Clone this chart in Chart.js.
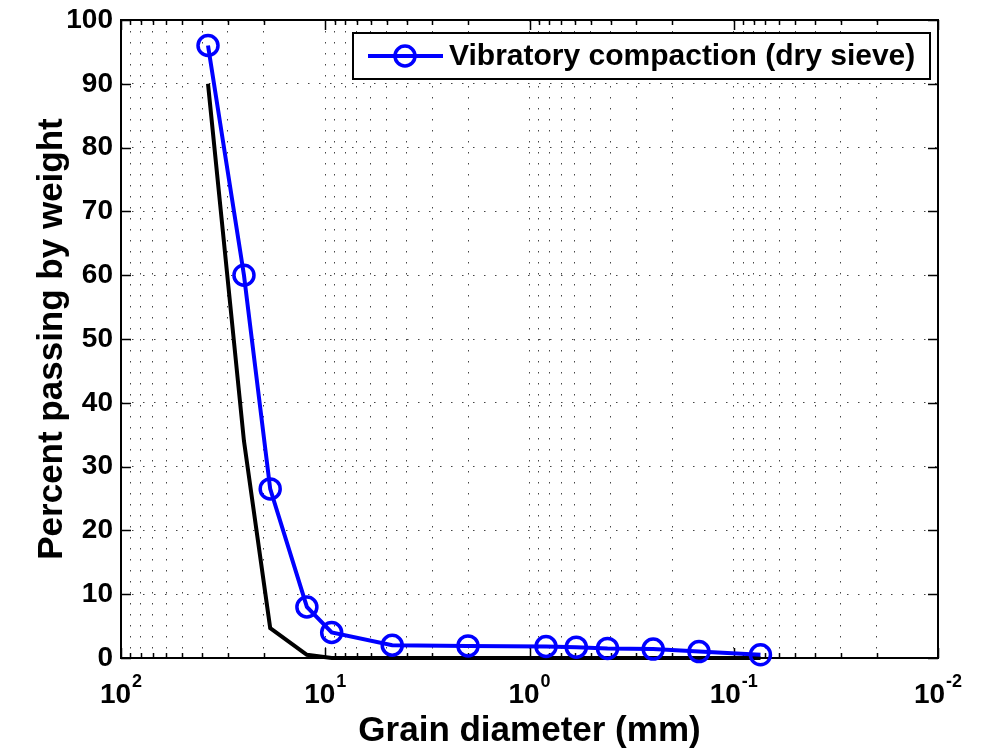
<!DOCTYPE html>
<html>
<head>
<meta charset="utf-8">
<title>Grain size distribution</title>
<script src="https://cdn.jsdelivr.net/npm/chart.js@4.4.0/dist/chart.umd.min.js"></script>
<style>
  html, body { margin: 0; padding: 0; background: #fff; }
  #wrap { width: 981px; height: 750px; }
</style>
</head>
<body>
<div id="wrap"><canvas id="gradationChart"></canvas></div>
<script>
// Sieve sizes (mm) and percent passing
const sieveSizes = [37.5, 25, 18.6, 12.3, 9.3, 4.7, 2, 0.83, 0.59, 0.415, 0.248, 0.148, 0.074];
const passingDry = [96, 60, 26.5, 8, 4, 2, 1.9, 1.8, 1.7, 1.5, 1.4, 1.0, 0.5];
const passingBase = [90, 34, 4.7, 0.5, 0, 0, 0, 0, 0, 0, 0, 0, 0];

// Axis ticks
const decades = [2, 1, 0, -1, -2];
const yTicks = [0, 10, 20, 30, 40, 50, 60, 70, 80, 90, 100];

const FONT = '"Liberation Sans", Arial, Helvetica, sans-serif';

const toPoints = (ys) => sieveSizes.map((x, i) => ({ x: x, y: ys[i] }));

// every 1..9 x 10^n value between 0.01 and 100
const logTicks = [];
for (let e = -2; e < 2; e++) {
  for (let m = 1; m <= 9; m++) logTicks.push(+(m * Math.pow(10, e)).toPrecision(3));
}
logTicks.push(100);

//Function to draw the box, inner ticks, exponent labels and legend
const axesPlugin = {
  id: 'axesPlugin',
  beforeDatasetsDraw(chart) {
    const { ctx, chartArea: a, scales } = chart;
    ctx.save();
    ctx.strokeStyle = '#000';
    ctx.lineWidth = 1.5;

    // inner ticks on all four sides
    ctx.beginPath();
    logTicks.forEach(v => {
      const px = Math.round(scales.x.getPixelForValue(v)) + 0.5;
      const major = Math.abs(Math.log10(v) - Math.round(Math.log10(v))) < 1e-6;
      const len = major ? 10 : 5;
      ctx.moveTo(px, a.bottom); ctx.lineTo(px, a.bottom - len);
      ctx.moveTo(px, a.top); ctx.lineTo(px, a.top + len);
    });
    yTicks.forEach(v => {
      const py = Math.round(scales.y.getPixelForValue(v)) + 0.5;
      ctx.moveTo(a.left, py); ctx.lineTo(a.left + 10, py);
      ctx.moveTo(a.right, py); ctx.lineTo(a.right - 10, py);
    });
    ctx.stroke();

    ctx.lineWidth = 2;
    ctx.strokeRect(a.left, a.top, a.right - a.left, a.bottom - a.top);

    // 10^n labels under the x axis
    ctx.fillStyle = '#000';
    ctx.textBaseline = 'alphabetic';
    ctx.textAlign = 'left';
    decades.forEach(e => {
      const px = scales.x.getPixelForValue(Math.pow(10, e));
      ctx.font = 'bold 28px ' + FONT;
      const wBase = ctx.measureText('10').width;
      ctx.font = 'bold 18px ' + FONT;
      const sup = String(e);
      const wSup = ctx.measureText(sup).width;
      const x0 = px - (wBase + wSup + 1) / 2;
      ctx.font = 'bold 28px ' + FONT;
      ctx.fillText('10', x0, a.bottom + 45);
      ctx.font = 'bold 18px ' + FONT;
      ctx.fillText(sup, x0 + wBase + 1, a.bottom + 29);
    });
    ctx.restore();
  },
  afterDraw(chart) {
    const { ctx } = chart;
    const ds = chart.data.datasets[0];
    const box = { x: 353, y: 33, w: 577, h: 46 };
    const cy = box.y + box.h / 2;
    ctx.save();
    ctx.fillStyle = '#fff';
    ctx.fillRect(box.x, box.y, box.w, box.h);
    ctx.strokeStyle = '#000';
    ctx.lineWidth = 2;
    ctx.strokeRect(box.x, box.y, box.w, box.h);

    ctx.strokeStyle = ds.borderColor;
    ctx.lineWidth = ds.borderWidth;
    ctx.beginPath();
    ctx.moveTo(box.x + 15, cy);
    ctx.lineTo(box.x + 90, cy);
    ctx.stroke();
    ctx.lineWidth = ds.pointBorderWidth;
    ctx.beginPath();
    ctx.arc(box.x + 52, cy, ds.pointRadius, 0, Math.PI * 2);
    ctx.stroke();

    ctx.fillStyle = '#000';
    ctx.font = 'bold 30px ' + FONT;
    ctx.textBaseline = 'middle';
    ctx.fillText(ds.label, box.x + 96, cy + 1);
    ctx.restore();
  }
};

window.addEventListener('DOMContentLoaded', function () {
  const ctx = document.getElementById('gradationChart').getContext('2d');

  new Chart(ctx, {
    type: 'line',
    data: {
      datasets: [
        {
          label: 'Vibratory compaction (dry sieve)',
          data: toPoints(passingDry),
          borderColor: '#0000ff',
          borderWidth: 4,
          pointRadius: 10,
          pointBorderWidth: 3.5,
          pointBorderColor: '#0000ff',
          pointBackgroundColor: 'rgba(0,0,0,0)',
          pointStyle: 'circle',
          tension: 0,
          clip: false
        },
        {
          label: 'Reference',
          data: toPoints(passingBase),
          borderColor: '#000000',
          borderWidth: 4,
          pointRadius: 0,
          tension: 0,
          clip: false
        }
      ]
    },
    options: {
      responsive: true,
      maintainAspectRatio: false,
      animation: false,
      layout: { padding: { left: 0, right: 43, top: 20, bottom: 0 } },
      plugins: {
        legend: { display: false },
        tooltip: { enabled: false }
      },
      scales: {
        x: {
          type: 'logarithmic',
          reverse: true,
          min: 0.01,
          max: 100,
          afterBuildTicks: (scale) => { scale.ticks = logTicks.map(v => ({ value: v })); },
          afterFit: (scale) => {
            scale.height = 92;
            scale.paddingLeft = 0;
            scale.paddingRight = 0;
          },
          ticks: { display: false },
          grid: { color: '#444', lineWidth: 1, drawTicks: false },
          border: { display: false, dash: [1.5, 9.5] },
          title: {
            display: true,
            text: 'Grain diameter (mm)',
            color: '#000',
            font: { family: FONT, size: 35, weight: 'bold' },
            padding: { top: 0, bottom: -2 }
          }
        },
        y: {
          min: 0,
          max: 100,
          afterBuildTicks: (scale) => { scale.ticks = yTicks.map(v => ({ value: v })); },
          afterFit: (scale) => {
            scale.width = 121;
            scale.paddingTop = 0;
            scale.paddingBottom = 0;
          },
          ticks: {
            color: '#000',
            padding: 8,
            font: { family: FONT, size: 28, weight: 'bold' }
          },
          grid: { color: '#444', lineWidth: 1, drawTicks: false },
          border: { display: false, dash: [1.5, 9.5] },
          title: {
            display: true,
            text: 'Percent passing by weight',
            color: '#000',
            font: { family: FONT, size: 35, weight: 'bold' },
            padding: { top: 31, bottom: 0 }
          }
        }
      }
    },
    plugins: [axesPlugin]
  });
});
</script>
</body>
</html>
